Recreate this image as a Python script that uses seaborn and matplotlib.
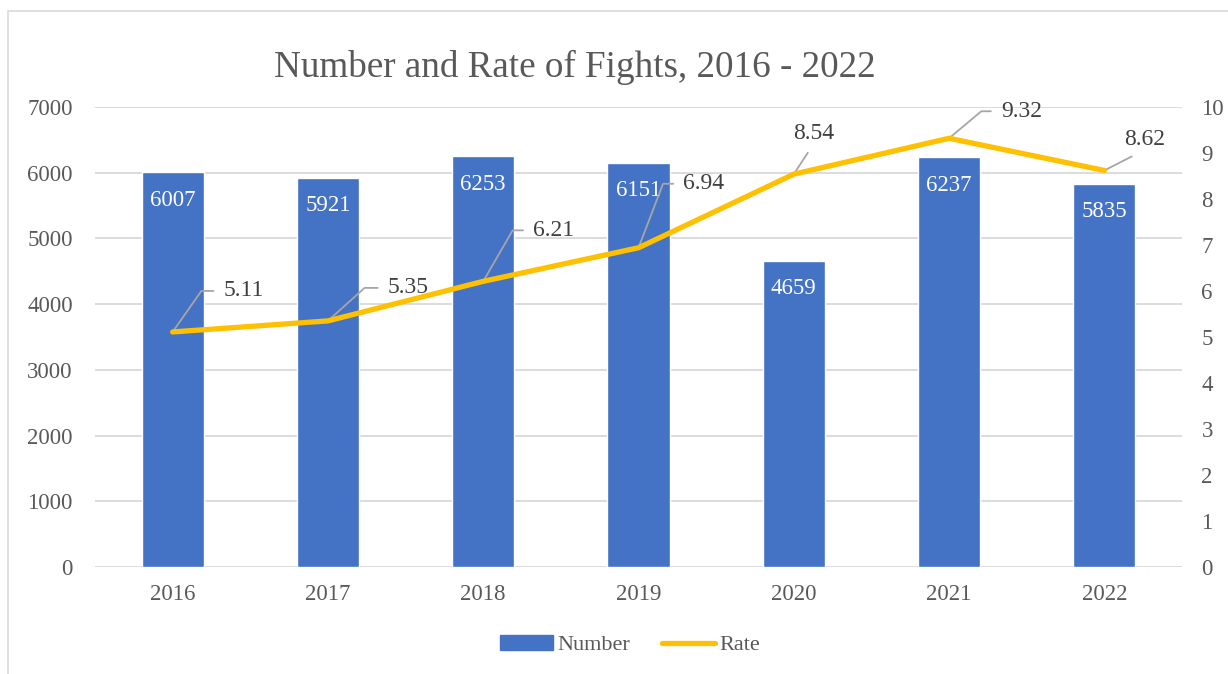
import matplotlib
matplotlib.use("Agg")
import matplotlib.pyplot as plt
import matplotlib.patches as mpatches
from matplotlib.lines import Line2D
import seaborn as sns
import numpy as np
import pandas as pd

years = ["2016", "2017", "2018", "2019", "2020", "2021", "2022"]
numbers = [6007, 5921, 6253, 6151, 4659, 6237, 5835]
rates = [5.11, 5.35, 6.21, 6.94, 8.54, 9.32, 8.62]
left_ticks = [0, 1000, 2000, 3000, 4000, 5000, 6000, 7000]
right_ticks = [0, 1, 2, 3, 4, 5, 6, 7, 8, 9, 10]
title = "Number and Rate of Fights, 2016 - 2022"

# label placement styles (offset pixels, connector style)
rate_label_style = [
    dict(off=(51, 41), kind="elbow", angle=55),
    dict(off=(60, 33), kind="elbow", angle=42),
    dict(off=(50, 51), kind="elbow", angle=60),
    dict(off=(45, 64), kind="elbow", angle=69),
    dict(off=(20, 41), kind="straight"),
    dict(off=(52, 27), kind="elbow", angle=40),
    dict(off=(40, 31), kind="straight"),
]

sns.set_style("white")
plt.rcParams["font.family"] = ["Liberation Serif", "DejaVu Serif"]

BAR = "#4472C4"
LINE = "#FFC000"
TXT = "#595959"
DARK = "#404040"
GRID = "#D9D9D9"

df = pd.DataFrame({"Year": years, "Number": numbers, "Rate": rates,
                   "pos": np.arange(len(years))})

fig = plt.figure(figsize=(12.28, 6.74), dpi=100)
ax = fig.add_axes([95 / 1228, 1 - 567 / 674, (1182 - 95) / 1228, 460 / 674])

sns.barplot(data=df, x="Year", y="Number", color=BAR, saturation=1,
            width=0.4, ax=ax, zorder=2)
ax.set_xlim(-0.5, len(years) - 0.5)
ax.set_ylim(0, 7000)
ax.set_yticks(left_ticks)
ax.yaxis.grid(True, color=GRID, linewidth=1.3, zorder=0)
ax.set_axisbelow(True)
for s in ax.spines.values():
    s.set_visible(False)
ax.set_xlabel("")
ax.set_ylabel("")
ax.tick_params(axis="y", length=0, pad=16, labelsize=16.5, labelcolor=TXT)
ax.tick_params(axis="x", length=0, pad=12, labelsize=16.5, labelcolor=TXT)

for i, v in enumerate(numbers):
    ax.annotate(str(v), xy=(i, v), xytext=(0, -28), textcoords="offset pixels",
                ha="center", va="center", color="white", fontsize=16.5, zorder=5)

ax2 = ax.twinx()
sns.lineplot(data=df, x="pos", y="Rate", color=LINE, linewidth=3.8, ax=ax2,
             solid_capstyle="round", solid_joinstyle="miter", zorder=4)
ax2.set_ylim(0, 10)
ax2.set_yticks(right_ticks)
ax2.set_xlim(-0.5, len(years) - 0.5)
for s in ax2.spines.values():
    s.set_visible(False)
ax2.set_xlabel("")
ax2.set_ylabel("")
ax2.tick_params(axis="y", length=0, pad=14, labelsize=16.5, labelcolor=TXT)

for i, (r, st) in enumerate(zip(rates, rate_label_style)):
    if st["kind"] == "elbow":
        ax2.annotate(f"{r:.2f}", xy=(i, r), xytext=st["off"],
                     textcoords="offset pixels", ha="left", va="center",
                     color=DARK, fontsize=17,
                     arrowprops=dict(arrowstyle="-", color="#A6A6A6", lw=1.3,
                                     relpos=(0, 0.5), shrinkA=5, shrinkB=0,
                                     connectionstyle=f"angle,angleA=0,angleB={st['angle']},rad=0"))
    else:
        ax2.annotate(f"{r:.2f}", xy=(i, r), xytext=st["off"],
                     textcoords="offset pixels", ha="center", va="center",
                     color=DARK, fontsize=17,
                     arrowprops=dict(arrowstyle="-", color="#A6A6A6", lw=1.3,
                                     relpos=(0.5, 0), shrinkA=5, shrinkB=0,
                                     connectionstyle="arc3,rad=0"))

fig.text(575 / 1228, 1 - 67 / 674, title, ha="center", va="center",
         fontsize=26.7, color=TXT)

handles = [mpatches.Patch(color=BAR, label="Number"),
           Line2D([0], [0], color=LINE, lw=3.8, solid_capstyle="round", label="Rate")]
fig.legend(handles=handles, loc="center", bbox_to_anchor=(630 / 1228, 1 - 645 / 674),
           ncol=2, frameon=False, fontsize=16, handlelength=2.4, handleheight=0.7,
           handletextpad=0.2, columnspacing=1.4, labelcolor=TXT)

border = mpatches.Rectangle((8 / 1228, -0.1), 1.2, 1.1 - 11 / 674 + 0.0,
                            transform=fig.transFigure, fill=False,
                            edgecolor="#D9D9D9", linewidth=1.2)
fig.patches.append(border)

fig.savefig("out.png", dpi=100)
